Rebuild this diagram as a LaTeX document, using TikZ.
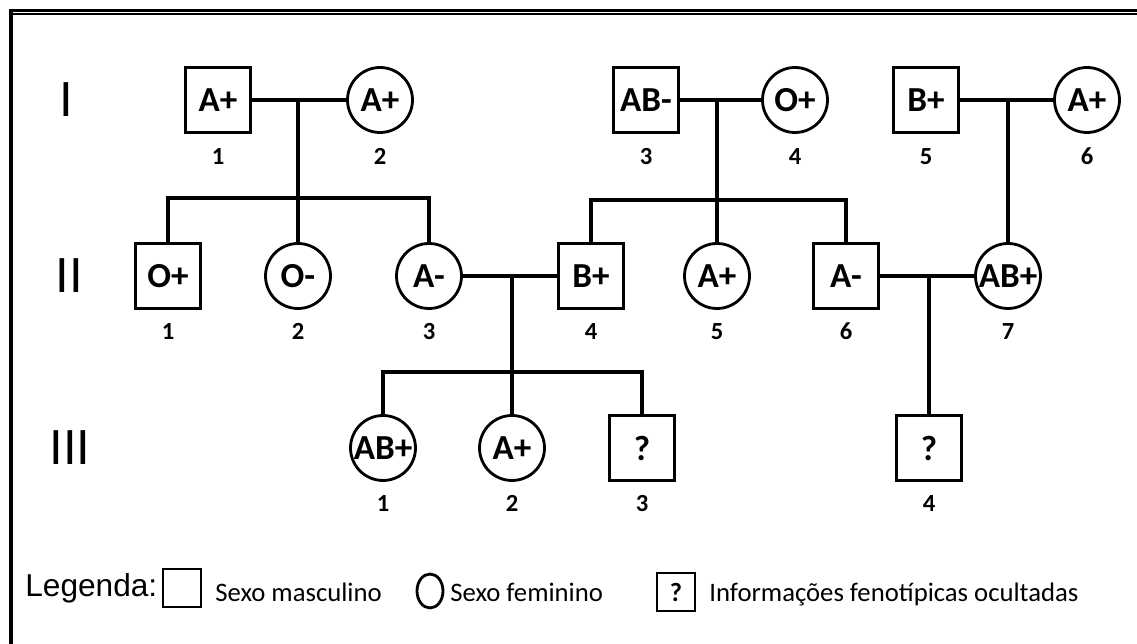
\documentclass[tikz,border=0pt]{standalone}
\usepackage{fontspec}
\setmainfont{Carlito}[Numbers=Lining]
\newfontfamily\arialfont{Liberation Sans}
\usetikzlibrary{shapes.geometric}

\begin{document}
\begin{tikzpicture}[x=0.02cm,y=-0.02cm]
	\tikzstyle{homem}=[draw,line width=1.6pt,minimum size=1.3cm,inner sep=0pt,fill=white,font=\bfseries\fontsize{20}{24}\selectfont]
	\tikzstyle{mulher}=[homem,circle]
	\tikzstyle{ligacao}=[line width=2.6pt]
	\tikzstyle{numero}=[anchor=base,inner sep=0pt,font=\bfseries\fontsize{14}{17}\selectfont]
	\tikzstyle{geracao}=[inner sep=0pt,font=\arialfont\fontsize{28}{30}\selectfont]
	\tikzstyle{legenda}=[anchor=base west,inner sep=0pt,font=\fontsize{15.2}{18}\selectfont]
	\def\GerI{100}
	\def\GerII{276}
	\def\GerIII{448}
	\def\NumI{165}
	\def\NumII{340}
	\def\NumIII{512}
	\useasboundingbox (0,0) rectangle (1137,644);
	% moldura
	\draw[line width=1.5pt] (10,10.5) -- (1137,10.5);
	\draw[line width=0.9pt] (12,13.8) -- (1137,13.8);
	\draw[line width=2.3pt] (11.3,9.3) -- (11.3,644);
	% geracoes
	\node[geracao] (gI) at (66,\GerI) {I};
	\node[geracao] (gII) at (69,\GerII) {II};
	\node[geracao] (gIII) at (70,\GerIII) {III};
	% geracao I
	\node[homem] (I1) at (218,\GerI) {A+};
	\node[mulher] (I2) at (380,\GerI) {A+};
	\node[homem] (I3) at (646,\GerI) {AB-};
	\node[mulher] (I4) at (795,\GerI) {O+};
	\node[homem] (I5) at (926,\GerI) {B+};
	\node[mulher] (I6) at (1087,\GerI) {A+};
	\node[numero] (nI1) at (218,\NumI) {1};
	\node[numero] (nI2) at (380,\NumI) {2};
	\node[numero] (nI3) at (646,\NumI) {3};
	\node[numero] (nI4) at (795,\NumI) {4};
	\node[numero] (nI5) at (926,\NumI) {5};
	\node[numero] (nI6) at (1087,\NumI) {6};
	% geracao II
	\node[homem] (II1) at (168,\GerII) {O+};
	\node[mulher] (II2) at (298,\GerII) {O-};
	\node[mulher] (II3) at (429,\GerII) {A-};
	\node[homem] (II4) at (591,\GerII) {B+};
	\node[mulher] (II5) at (717,\GerII) {A+};
	\node[homem] (II6) at (846,\GerII) {A-};
	\node[mulher] (II7) at (1008,\GerII) {AB+};
	\node[numero] (nII1) at (168,\NumII) {1};
	\node[numero] (nII2) at (298,\NumII) {2};
	\node[numero] (nII3) at (429,\NumII) {3};
	\node[numero] (nII4) at (591,\NumII) {4};
	\node[numero] (nII5) at (717,\NumII) {5};
	\node[numero] (nII6) at (846,\NumII) {6};
	\node[numero] (nII7) at (1008,\NumII) {7};
	% geracao III
	\node[mulher] (III1) at (383,\GerIII) {AB+};
	\node[mulher] (III2) at (512,\GerIII) {A+};
	\node[homem] (III3) at (642,\GerIII) {?};
	\node[homem] (III4) at (929,\GerIII) {?};
	\node[numero] (nIII1) at (383,\NumIII) {1};
	\node[numero] (nIII2) at (512,\NumIII) {2};
	\node[numero] (nIII3) at (642,\NumIII) {3};
	\node[numero] (nIII4) at (929,\NumIII) {4};
	% casais
	\coordinate (c12) at (II2 |- I1);
	\coordinate (c34) at (II5 |- I3);
	\coordinate (c56) at (II7 |- I5);
	\coordinate (cII34) at (III2 |- II3);
	\coordinate (cII67) at (III4 |- II6);
	\coordinate (f12) at (297,198);
	\coordinate (f34) at (716,200);
	\coordinate (fII34) at (511,372);
	\draw[ligacao] (I1) -- (I2);
	\draw[ligacao] (I3) -- (I4);
	\draw[ligacao] (I5) -- (I6);
	\draw[ligacao] (II3) -- (II4);
	\draw[ligacao] (II6) -- (II7);
	% filhos
	\draw[ligacao] (c12) -- (II2);
	\draw[ligacao] (II1.north) -- (II1.north |- f12) -- (II3.north |- f12) -- (II3.north);
	\draw[ligacao] (c34) -- (II5);
	\draw[ligacao] (II4.north) -- (II4.north |- f34) -- (II6.north |- f34) -- (II6.north);
	\draw[ligacao] (c56) -- (II7);
	\draw[ligacao] (cII34) -- (III2);
	\draw[ligacao] (III1.north) -- (III1.north |- fII34) -- (III3.north |- fII34) -- (III3.north);
	\draw[ligacao] (cII67) -- (III4);
	% legenda
	\node[anchor=base west,inner sep=0pt,font=\arialfont\fontsize{18}{21}\selectfont] (lg) at (25,597) {Legenda:};
	\node[homem,minimum size=0.76cm] (lgH) at (182,588) {};
	\node[legenda] (tH) at (215,602) {Sexo masculino};
	\node[draw,ellipse,line width=1.6pt,minimum width=0.52cm,minimum height=0.68cm,inner sep=0pt] (lgM) at (430,591) {};
	\node[legenda] (tM) at (450,602) {Sexo feminino};
	\node[homem,minimum size=0.76cm,font=\bfseries\fontsize{15}{18}\selectfont] (lgQ) at (676,592) {?};
	\node[legenda] (tQ) at (709,602) {Informações fenotípicas ocultadas};
\end{tikzpicture}
\end{document}
